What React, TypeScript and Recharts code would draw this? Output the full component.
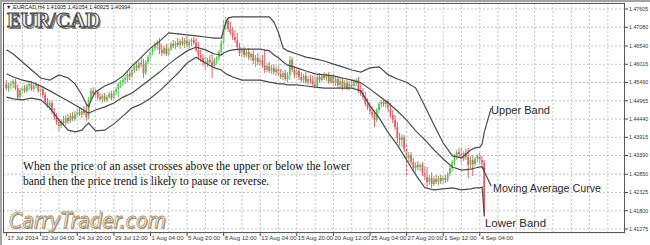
import React from "react";
import {
  ComposedChart,
  Bar,
  Line,
  XAxis,
  YAxis,
  CartesianGrid,
  ReferenceLine,
} from "recharts";

// EURCAD H4 candles, [open, high, low, close], first bar is 17 Jul 2014
const candles: [number, number, number, number][] = [
  [1.4545, 1.4556, 1.4527, 1.4533], [1.4533, 1.4548, 1.4522, 1.4542], [1.4542, 1.4553, 1.453, 1.4545],
  [1.4545, 1.4559, 1.4533, 1.4553], [1.4553, 1.4559, 1.4527, 1.4533], [1.4533, 1.4542, 1.4499, 1.4507],
  [1.4507, 1.4533, 1.4502, 1.4527], [1.4527, 1.4539, 1.4516, 1.4533], [1.4533, 1.4542, 1.4519, 1.4525],
  [1.4525, 1.4545, 1.4519, 1.4539], [1.4539, 1.455, 1.4527, 1.4545], [1.4545, 1.4553, 1.4525, 1.453],
  [1.453, 1.4545, 1.4522, 1.4539], [1.4539, 1.455, 1.4533, 1.4542], [1.4542, 1.4545, 1.4519, 1.4525],
  [1.4525, 1.4539, 1.451, 1.453], [1.453, 1.4539, 1.4504, 1.4513], [1.4513, 1.4522, 1.4487, 1.4493],
  [1.4493, 1.4504, 1.4476, 1.4481], [1.4481, 1.4499, 1.447, 1.449], [1.449, 1.4496, 1.4458, 1.4464],
  [1.4464, 1.4476, 1.4441, 1.445], [1.445, 1.4461, 1.4427, 1.4435], [1.4435, 1.4447, 1.441, 1.4424],
  [1.4424, 1.4444, 1.4418, 1.4438], [1.4438, 1.4453, 1.4427, 1.4432], [1.4432, 1.4456, 1.4424, 1.4447],
  [1.4447, 1.4458, 1.443, 1.4438], [1.4438, 1.4461, 1.4432, 1.4453], [1.4453, 1.4464, 1.4438, 1.4444],
  [1.4444, 1.4467, 1.4438, 1.4458], [1.4458, 1.4473, 1.4447, 1.4464], [1.4464, 1.4476, 1.4453, 1.4456],
  [1.4456, 1.4473, 1.4447, 1.4467], [1.4467, 1.4481, 1.4456, 1.4461], [1.4461, 1.4487, 1.4438, 1.445],
  [1.445, 1.4507, 1.4444, 1.4499], [1.4499, 1.4533, 1.4493, 1.4525], [1.4525, 1.4536, 1.451, 1.4516],
  [1.4516, 1.453, 1.4504, 1.4522], [1.4522, 1.4527, 1.4499, 1.4507], [1.4507, 1.4519, 1.4496, 1.4502],
  [1.4502, 1.4516, 1.449, 1.451], [1.451, 1.4519, 1.4493, 1.4499], [1.4499, 1.4513, 1.4493, 1.4507],
  [1.4507, 1.4522, 1.4502, 1.4516], [1.4516, 1.4525, 1.4499, 1.4504], [1.4504, 1.4527, 1.4499, 1.4522],
  [1.4522, 1.4536, 1.4513, 1.453], [1.453, 1.455, 1.4507, 1.4545], [1.4545, 1.4556, 1.4533, 1.455],
  [1.455, 1.4565, 1.4539, 1.4556], [1.4556, 1.4571, 1.4545, 1.4562], [1.4562, 1.4579, 1.455, 1.4574],
  [1.4574, 1.4585, 1.4556, 1.4568], [1.4568, 1.4591, 1.4562, 1.4585], [1.4585, 1.4602, 1.4576, 1.4597],
  [1.4597, 1.4608, 1.4582, 1.4591], [1.4591, 1.4611, 1.4585, 1.4605], [1.4605, 1.4622, 1.4594, 1.4602],
  [1.4602, 1.4617, 1.4562, 1.4576], [1.4576, 1.4614, 1.4571, 1.4608], [1.4608, 1.4628, 1.4602, 1.4622],
  [1.4622, 1.4643, 1.4614, 1.4637], [1.4637, 1.4654, 1.4628, 1.4648], [1.4648, 1.4666, 1.464, 1.4657],
  [1.4657, 1.4671, 1.4643, 1.4663], [1.4663, 1.4677, 1.4631, 1.4643], [1.4643, 1.466, 1.4625, 1.4634],
  [1.4634, 1.4654, 1.4628, 1.4648], [1.4648, 1.466, 1.4625, 1.4631], [1.4631, 1.4651, 1.4625, 1.4645],
  [1.4645, 1.4666, 1.464, 1.466], [1.466, 1.4671, 1.4648, 1.4654], [1.4654, 1.4668, 1.4645, 1.4663],
  [1.4663, 1.4677, 1.4651, 1.4657], [1.4657, 1.4674, 1.4645, 1.4668], [1.4668, 1.468, 1.4654, 1.466],
  [1.466, 1.4677, 1.4648, 1.4671], [1.4671, 1.4683, 1.4651, 1.4657], [1.4657, 1.4674, 1.4645, 1.4666],
  [1.4666, 1.4677, 1.4654, 1.4671], [1.4671, 1.468, 1.4657, 1.4663], [1.4663, 1.4677, 1.4637, 1.4643],
  [1.4643, 1.4666, 1.4614, 1.4628], [1.4628, 1.4643, 1.4608, 1.462], [1.462, 1.4631, 1.4597, 1.4608],
  [1.4608, 1.4622, 1.4585, 1.4602], [1.4602, 1.462, 1.4594, 1.4614], [1.4614, 1.4628, 1.4602, 1.4608],
  [1.4608, 1.4634, 1.4562, 1.4597], [1.4597, 1.462, 1.4591, 1.4614], [1.4614, 1.4625, 1.4602, 1.462],
  [1.462, 1.4643, 1.4611, 1.4637], [1.4637, 1.4671, 1.4628, 1.4663], [1.4663, 1.4729, 1.4657, 1.4717],
  [1.4717, 1.4738, 1.47, 1.4726], [1.4726, 1.4735, 1.4694, 1.4703], [1.4703, 1.4723, 1.4686, 1.4692],
  [1.4692, 1.4709, 1.4671, 1.468], [1.468, 1.47, 1.4663, 1.4671], [1.4671, 1.4692, 1.4643, 1.4651],
  [1.4651, 1.4663, 1.4625, 1.4634], [1.4634, 1.4648, 1.4622, 1.4643], [1.4643, 1.4651, 1.462, 1.4628],
  [1.4628, 1.4645, 1.4622, 1.4637], [1.4637, 1.4648, 1.4614, 1.4622], [1.4622, 1.4637, 1.4611, 1.4631],
  [1.4631, 1.4643, 1.4602, 1.4611], [1.4611, 1.4628, 1.4594, 1.462], [1.462, 1.4634, 1.4599, 1.4608],
  [1.4608, 1.4622, 1.4597, 1.4614], [1.4614, 1.4628, 1.4591, 1.4599], [1.4599, 1.4643, 1.4576, 1.4585],
  [1.4585, 1.4605, 1.4579, 1.4597], [1.4597, 1.4608, 1.4576, 1.4582], [1.4582, 1.4599, 1.4574, 1.4591],
  [1.4591, 1.4602, 1.4571, 1.4579], [1.4579, 1.4594, 1.4568, 1.4588], [1.4588, 1.4597, 1.4565, 1.4574],
  [1.4574, 1.4588, 1.4559, 1.4565], [1.4565, 1.4582, 1.4556, 1.4576], [1.4576, 1.4585, 1.4553, 1.4559],
  [1.4559, 1.4579, 1.455, 1.4571], [1.4571, 1.4625, 1.4556, 1.4614], [1.4614, 1.4622, 1.4579, 1.4585],
  [1.4585, 1.4597, 1.4562, 1.4571], [1.4571, 1.4588, 1.4562, 1.4582], [1.4582, 1.4591, 1.4556, 1.4565],
  [1.4565, 1.4579, 1.455, 1.4556], [1.4556, 1.4574, 1.4548, 1.4568], [1.4568, 1.4579, 1.4545, 1.455],
  [1.455, 1.4568, 1.4542, 1.4559], [1.4559, 1.4571, 1.4545, 1.4553], [1.4553, 1.4568, 1.4539, 1.4545],
  [1.4545, 1.4565, 1.4533, 1.4539], [1.4539, 1.4574, 1.4533, 1.4565], [1.4565, 1.4576, 1.4548, 1.4556],
  [1.4556, 1.4574, 1.455, 1.4568], [1.4568, 1.4579, 1.4556, 1.4562], [1.4562, 1.4576, 1.4553, 1.4571],
  [1.4571, 1.4579, 1.4545, 1.455], [1.455, 1.4571, 1.4545, 1.4565], [1.4565, 1.4574, 1.4539, 1.4548],
  [1.4548, 1.4568, 1.4539, 1.4559], [1.4559, 1.4568, 1.4533, 1.4542], [1.4542, 1.4562, 1.4533, 1.4553],
  [1.4553, 1.4562, 1.4527, 1.4536], [1.4536, 1.4556, 1.453, 1.4548], [1.4548, 1.4556, 1.4527, 1.4533],
  [1.4533, 1.4553, 1.4527, 1.4545], [1.4545, 1.4556, 1.453, 1.4539], [1.4539, 1.4559, 1.4533, 1.455],
  [1.455, 1.4562, 1.4539, 1.4556], [1.4556, 1.4565, 1.4519, 1.4527], [1.4527, 1.4545, 1.451, 1.4516],
  [1.4516, 1.4533, 1.4499, 1.4507], [1.4507, 1.4522, 1.4481, 1.4487], [1.4487, 1.4504, 1.447, 1.4476],
  [1.4476, 1.4493, 1.4458, 1.4464], [1.4464, 1.4481, 1.4447, 1.4456], [1.4456, 1.447, 1.4421, 1.4441],
  [1.4441, 1.4476, 1.4435, 1.447], [1.447, 1.4493, 1.4461, 1.4487], [1.4487, 1.4499, 1.4476, 1.4493],
  [1.4493, 1.4502, 1.4479, 1.4487], [1.4487, 1.4499, 1.4476, 1.4496], [1.4496, 1.4502, 1.4464, 1.4473],
  [1.4473, 1.449, 1.4447, 1.4456], [1.4456, 1.447, 1.4432, 1.4441], [1.4441, 1.4456, 1.4412, 1.4421],
  [1.4421, 1.4435, 1.4375, 1.4389], [1.4389, 1.4404, 1.4366, 1.4384], [1.4384, 1.4401, 1.4363, 1.4392],
  [1.4392, 1.4398, 1.4349, 1.4358], [1.4358, 1.4372, 1.4277, 1.4332], [1.4332, 1.4349, 1.432, 1.434],
  [1.434, 1.4349, 1.4312, 1.432], [1.432, 1.4332, 1.4291, 1.4303], [1.4303, 1.432, 1.4283, 1.4312],
  [1.4312, 1.4323, 1.4297, 1.4306], [1.4306, 1.4317, 1.4294, 1.4312], [1.4312, 1.432, 1.428, 1.4289],
  [1.4289, 1.4309, 1.4269, 1.4277], [1.4277, 1.4306, 1.4246, 1.4263], [1.4263, 1.4283, 1.4254, 1.4274],
  [1.4274, 1.4291, 1.4246, 1.4257], [1.4257, 1.428, 1.4251, 1.4271], [1.4271, 1.4283, 1.4257, 1.4263],
  [1.4263, 1.428, 1.4254, 1.4274], [1.4274, 1.4283, 1.4257, 1.4266], [1.4266, 1.428, 1.4257, 1.4274],
  [1.4274, 1.4283, 1.426, 1.4269], [1.4269, 1.4291, 1.4263, 1.4286], [1.4286, 1.4309, 1.428, 1.4303],
  [1.4303, 1.4326, 1.4294, 1.432], [1.432, 1.4343, 1.4312, 1.4338], [1.4338, 1.4355, 1.4326, 1.4349],
  [1.4349, 1.4361, 1.4335, 1.4343], [1.4343, 1.4361, 1.432, 1.4329], [1.4329, 1.4352, 1.4323, 1.4346],
  [1.4346, 1.4358, 1.4326, 1.4335], [1.4335, 1.4361, 1.4274, 1.4312], [1.4312, 1.4338, 1.4303, 1.4326],
  [1.4326, 1.434, 1.428, 1.4314], [1.4314, 1.4335, 1.4309, 1.4329], [1.4329, 1.4343, 1.432, 1.4338],
  [1.4338, 1.4346, 1.4314, 1.4326], [1.4326, 1.4338, 1.4303, 1.4317], [1.4317, 1.4326, 1.4162, 1.4176],
];

// Bollinger bands (20), read at these bar numbers
const bandIdx = [
  1, 4, 8, 12, 16, 20, 24, 28, 31, 34, 36, 37, 38, 40, 44, 48, 52, 56, 60, 64, 68, 72, 76, 80, 84, 88,
  92, 95, 96, 97, 98, 100, 104, 108, 112, 116, 118, 120, 122, 124, 128, 132, 136, 140, 144, 148, 152,
  156, 160, 164, 168, 172, 176, 180, 184, 188, 192, 196, 200, 204, 206, 208, 209, 210,
];
const upperBand = [
  1.4643, 1.4631, 1.4608, 1.4585, 1.4562, 1.4556, 1.4571, 1.4562, 1.4545, 1.4513, 1.4487, 1.4479,
  1.4499, 1.4522, 1.4539, 1.455, 1.4568, 1.4597, 1.4622, 1.4648, 1.4668, 1.4692, 1.4689, 1.4686,
  1.4683, 1.468, 1.4677, 1.4677, 1.47, 1.4723, 1.4735, 1.4738, 1.4738, 1.4738, 1.4738, 1.4738,
  1.4723, 1.4692, 1.4648, 1.464, 1.4631, 1.4622, 1.4617, 1.4611, 1.4602, 1.4594, 1.4585, 1.4579,
  1.4591, 1.4594, 1.4571, 1.4559, 1.455, 1.4533, 1.4481, 1.4427, 1.4375, 1.4338, 1.4332, 1.4355,
  1.4361, 1.4363, 1.4372, 1.4407,
];
const middleBand = [
  1.4574, 1.4565, 1.4556, 1.455, 1.4539, 1.4525, 1.451, 1.4496, 1.4484, 1.4473, 1.4464, 1.4461,
  1.4464, 1.447, 1.4479, 1.449, 1.4507, 1.4519, 1.4539, 1.4559, 1.4579, 1.4602, 1.4622, 1.464,
  1.4651, 1.4643, 1.4631, 1.4628, 1.4634, 1.4637, 1.464, 1.4643, 1.4645, 1.4645, 1.4645, 1.464,
  1.4628, 1.462, 1.4608, 1.4599, 1.4591, 1.4582, 1.4574, 1.4571, 1.4568, 1.4562, 1.4556, 1.4548,
  1.453, 1.451, 1.449, 1.4467, 1.4441, 1.441, 1.4384, 1.4355, 1.4329, 1.4306, 1.4297, 1.43,
  1.4303, 1.4306, 1.4306, 1.4297,
];
const lowerBand = [
  1.4507, 1.4502, 1.4499, 1.4504, 1.4499, 1.4476, 1.4441, 1.4412, 1.4407, 1.4412, 1.4427, 1.4432,
  1.4424, 1.441, 1.4412, 1.443, 1.4453, 1.4476, 1.4487, 1.4504, 1.4525, 1.455, 1.4576, 1.4605,
  1.4622, 1.4605, 1.4591, 1.4585, 1.4579, 1.4574, 1.4571, 1.4565, 1.4556, 1.4556, 1.4556, 1.455,
  1.4548, 1.4545, 1.4545, 1.4542, 1.4542, 1.4539, 1.4536, 1.4533, 1.4533, 1.4533, 1.4533, 1.4525,
  1.4481, 1.4447, 1.4404, 1.4369, 1.4326, 1.4283, 1.4246, 1.424, 1.4243, 1.4246, 1.424, 1.4243,
  1.4246, 1.4246, 1.4248, 1.4165,
];

const priceTicks = [
  1.47605, 1.4708, 1.4654, 1.46015, 1.4549, 1.44965, 1.4444, 1.43915, 1.4339, 1.4285, 1.42325,
  1.418, 1.41275,
];
const timeLabelIdx = [1, 16, 32, 48, 64, 80, 96, 112, 128, 144, 160, 176, 192, 208];
const timeLabels = [
  "17 Jul 2014", "22 Jul 04:00", "24 Jul 20:00", "29 Jul 12:00", "1 Aug 04:00", "5 Aug 20:00",
  "8 Aug 12:00", "13 Aug 04:00", "15 Aug 20:00", "20 Aug 12:00", "25 Aug 04:00", "27 Aug 20:00",
  "1 Sep 12:00", "4 Sep 04:00",
];

const SLOTS = 272; // bar slots across the plot, empty ones on the right
const GREEN = "#5ec45e";
const RED = "#e2606a";
const BAND = "#4a4a4a";
const GRID = "#c4c4c4";

const rows: any[] = Array.from({ length: SLOTS }, (_, k) => {
  const row: any = { k };
  const c = k >= 1 ? candles[k - 1] : undefined;
  if (c) {
    row.o = c[0];
    row.h = c[1];
    row.l = c[2];
    row.c = c[3];
  }
  return row;
});
bandIdx.forEach((k, j) => {
  rows[k].upper = upperBand[j];
  rows[k].middle = middleBand[j];
  rows[k].lower = lowerBand[j];
});

const labelFor: Record<number, string> = {};
timeLabelIdx.forEach((k, j) => (labelFor[k] = timeLabels[j]));

const gridIdx = Array.from({ length: 33 }, (_, n) => (n + 1) * 8);

function Candle(props: any) {
  const { x, y, width, height, payload } = props;
  if (!payload || payload.h == null || !Number.isFinite(y)) return null;
  const { o, h, l, c } = payload;
  const top = Math.min(y, y + height);
  const span = Math.abs(height);
  const toPx = (v: number) => top + ((h - v) / (h - l)) * span;
  const cx = x + width / 2;
  const color = c >= o ? GREEN : RED;
  const b1 = toPx(Math.max(o, c));
  const b2 = toPx(Math.min(o, c));
  return (
    <g>
      <line x1={cx} x2={cx} y1={top} y2={top + span} stroke={color} strokeWidth={1} />
      <rect x={cx - 0.9} y={b1} width={1.8} height={Math.max(b2 - b1, 1)} fill={color} />
    </g>
  );
}

const labelFont = "Liberation Sans, Arial, sans-serif";

export default function App() {
  return (
    <div style={{ position: "absolute", left: 0, top: 0, width: 650, height: 245, background: "#fff" }}>
      <ComposedChart
        width={650}
        height={245}
        data={rows}
        margin={{ top: 3, right: 0, bottom: 0, left: 3 }}
      >
        <CartesianGrid vertical={false} stroke={GRID} strokeDasharray="2 2" />
        {gridIdx.map((k) => (
          <ReferenceLine key={k} x={k} stroke={GRID} strokeDasharray="2 2" />
        ))}
        <XAxis
          dataKey="k"
          type="category"
          ticks={timeLabelIdx}
          interval={0}
          height={12}
          axisLine={false}
          tickSize={3}
          tickMargin={0}
          tickLine={{ stroke: "#444" }}
          tick={{ fontSize: 6, fill: "#333", textAnchor: "start", dx: 1, fontFamily: labelFont }}
          tickFormatter={(k: number) => labelFor[k] ?? ""}
        />
        <YAxis
          orientation="right"
          type="number"
          domain={[1.4116, 1.47778]}
          allowDataOverflow
          ticks={priceTicks}
          interval={0}
          width={25}
          axisLine={false}
          tickSize={3}
          tickMargin={1}
          tickLine={{ stroke: "#444" }}
          tick={{ fontSize: 5.3, fill: "#333", fontFamily: labelFont }}
          tickFormatter={(v: number) => v.toFixed(5)}
        />
        <Bar
          dataKey={(d: any) => (d.h == null ? undefined : [d.l, d.h])}
          barSize={2}
          shape={(p: any) => <Candle {...p} />}
          isAnimationActive={false}
        />
        <Line dataKey="upper" type="linear" stroke={BAND} strokeWidth={1.2} dot={false} connectNulls isAnimationActive={false} />
        <Line dataKey="middle" type="linear" stroke={BAND} strokeWidth={1.2} dot={false} connectNulls isAnimationActive={false} />
        <Line dataKey="lower" type="linear" stroke={BAND} strokeWidth={1.2} dot={false} connectNulls isAnimationActive={false} />
        <ReferenceLine segment={[{ x: 210, y: 1.4407 }, { x: 213, y: 1.4476 }]} stroke={BAND} strokeWidth={1.2} />
        <ReferenceLine segment={[{ x: 209, y: 1.4306 }, { x: 213, y: 1.4251 }]} stroke={BAND} strokeWidth={1.2} />
      </ComposedChart>

      <div
        style={{
          position: "absolute",
          left: 3,
          top: 3,
          width: 622,
          height: 230,
          border: "1px solid #5a5a5a",
          boxSizing: "border-box",
          pointerEvents: "none",
        }}
      />
      <div style={{ position: "absolute", left: 0, top: 0, width: 650, height: 2, background: "#a4a4a4" }} />
      <div style={{ position: "absolute", left: 0, top: 0, width: 2, height: 245, background: "#a4a4a4" }} />

      <svg
        width={650}
        height={245}
        style={{ position: "absolute", left: 0, top: 0, pointerEvents: "none" }}
      >
        <text x={6} y={9} fontSize={5.5} fill="#222" fontFamily={labelFont}>
          ▼ EURCAD,H4  1.41005 1.41054 1.40925 1.40994
        </text>
        <g fontFamily="Liberation Serif, Times New Roman, serif" fontWeight="bold" fontSize={20}>
          <text x={8.5} y={28.5} fill="#7a7a7a" textLength={93} lengthAdjust="spacingAndGlyphs">EUR/CAD</text>
          <text x={7} y={27} fill="#f2f2f2" stroke="#3c3c3c" strokeWidth={0.9} textLength={93} lengthAdjust="spacingAndGlyphs">
            EUR/CAD
          </text>
        </g>
        <g fontFamily="Liberation Serif, Times New Roman, serif" fontSize={11.5} fill="#111">
          <text x={23} y={170} textLength={327} lengthAdjust="spacing">
            When the price of an asset crosses above the upper or below the lower
          </text>
          <text x={23} y={185}>band then the price trend is likely to pause or reverse.</text>
        </g>
        <g fontFamily={labelFont} fontSize={11.5} fill="#2a2a2a">
          <text x={491} y={114} textLength={59} lengthAdjust="spacingAndGlyphs">Upper Band</text>
          <text x={493} y={192} textLength={108} lengthAdjust="spacingAndGlyphs">Moving Average Curve</text>
          <text x={485} y={227} textLength={61} lengthAdjust="spacingAndGlyphs">Lower Band</text>
        </g>
        <g fontFamily="DejaVu Sans, sans-serif" fontStyle="italic" fontSize={21}>
          <text x={10} y={229} fill="#9c8a72" textLength={157} lengthAdjust="spacingAndGlyphs">CarryTrader.com</text>
          <text x={9} y={228} fill="#faf6ea" stroke="#a8926f" strokeWidth={0.8} textLength={157} lengthAdjust="spacingAndGlyphs">
            CarryTrader.com
          </text>
        </g>
      </svg>
    </div>
  );
}
